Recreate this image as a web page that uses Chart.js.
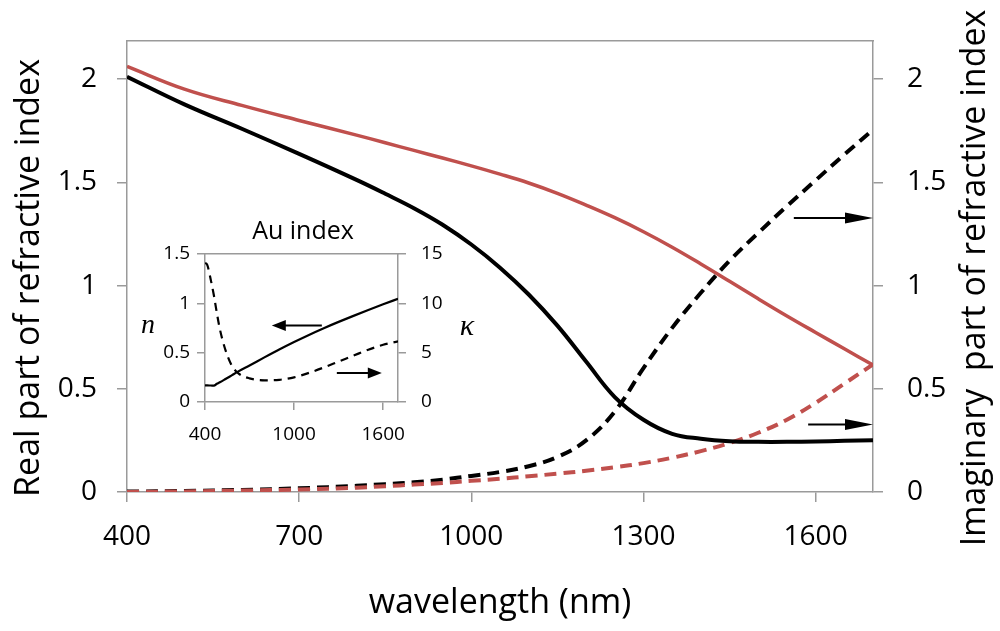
<!DOCTYPE html>
<html>
<head>
<meta charset="utf-8">
<title>Refractive index</title>
<script src="https://cdn.jsdelivr.net/npm/chart.js@4.4.1/dist/chart.umd.min.js"></script>
<style>
  html, body { margin: 0; padding: 0; background: #fff; }
  #wrap { position: relative; width: 1000px; height: 631px; }
  #mainBox { position: absolute; left: 0; top: 0; width: 1000px; height: 631px; }
  #insetBox { position: absolute; left: 130px; top: 200px; width: 360px; height: 260px; }
</style>
</head>
<body>
<div id="wrap">
  <div id="mainBox"><canvas id="mainChart"></canvas></div>
  <div id="insetBox"><canvas id="insetChart"></canvas></div>
</div>
<script>
// main plot data (wavelength in nm)
const wavelength = [400, 500, 600, 700, 800, 850, 900, 950, 1000, 1050, 1100, 1150, 1200, 1250, 1300, 1350, 1400, 1450, 1500, 1550, 1600, 1650, 1700];
const realBlack = [2.012, 1.878, 1.76, 1.638, 1.512, 1.445, 1.375, 1.295, 1.199, 1.087, 0.957, 0.806, 0.632, 0.46, 0.35, 0.282, 0.258, 0.246, 0.243, 0.243, 0.245, 0.248, 0.251];
const realRed   = [2.062, 1.952, 1.873, 1.80, 1.729, 1.692, 1.655, 1.618, 1.58, 1.54, 1.497, 1.447, 1.39, 1.329, 1.261, 1.186, 1.105, 1.021, 0.936, 0.853, 0.773, 0.694, 0.615];
const imagBlack = [0.002, 0.005, 0.01, 0.018, 0.03, 0.038, 0.047, 0.06, 0.078, 0.097, 0.125, 0.17, 0.25, 0.39, 0.60, 0.795, 0.965, 1.12, 1.255, 1.385, 1.51, 1.635, 1.755];
const imagRed   = [0.0, 0.003, 0.007, 0.012, 0.021, 0.028, 0.036, 0.044, 0.054, 0.064, 0.076, 0.089, 0.103, 0.12, 0.14, 0.166, 0.198, 0.237, 0.287, 0.35, 0.432, 0.525, 0.618];

const xTicks = [400, 700, 1000, 1300, 1600];
const yTicks = [0, 0.5, 1, 1.5, 2];

// arrows: [from wavelength, to wavelength, value]
const mainArrows = [[1562, 1700, 1.327], [1587, 1700, 0.327]];

// inset: Au index
const auWavelength = [400, 415, 440, 460, 480, 500, 535, 580, 625, 700, 800, 900, 1000, 1100, 1200, 1300, 1400, 1500, 1600, 1700];
const auN     = [0.169, 0.168, 0.167, 0.166, 0.185, 0.20, 0.23, 0.27, 0.31, 0.37, 0.452, 0.532, 0.608, 0.68, 0.748, 0.812, 0.873, 0.932, 0.99, 1.046];
const auKappa = [14.1, 13.9, 12.3, 10.8, 9.0, 7.4, 5.4, 3.7, 2.9, 2.4, 2.2, 2.25, 2.5, 2.95, 3.5, 4.1, 4.7, 5.3, 5.8, 6.15];

const insetXTicks = [400, 1000, 1600];
const insetNTicks = [0, 0.5, 1, 1.5];
const insetKTicks = [0, 5, 10, 15];
const insetArrows = [[1187, 850, 0.775], [1288, 1591, 0.295]];

const FONT = '"Open Sans", "Liberation Sans", sans-serif';
const AXIS = '#9a9a9a';

function pts(xs, ys) {
  return xs.map((x, i) => ({ x: x, y: ys[i] }));
}

// draws horizontal arrows given in data units
const arrowPlugin = {
  id: 'arrows',
  afterDatasetsDraw(chart, args, opts) {
    const ctx = chart.ctx;
    const xs = chart.scales.x, ys = chart.scales.y;
    opts.list.forEach(a => {
      const x1 = xs.getPixelForValue(a[0]);
      const x2 = xs.getPixelForValue(a[1]);
      const y = ys.getPixelForValue(a[2]);
      const dir = x2 > x1 ? 1 : -1;
      ctx.save();
      ctx.strokeStyle = '#000';
      ctx.fillStyle = '#000';
      ctx.lineWidth = opts.width;
      ctx.beginPath();
      ctx.moveTo(x1, y);
      ctx.lineTo(x2 - dir * opts.head * 0.8, y);
      ctx.stroke();
      ctx.beginPath();
      ctx.moveTo(x2, y);
      ctx.lineTo(x2 - dir * opts.head, y - opts.half);
      ctx.lineTo(x2 - dir * opts.head, y + opts.half);
      ctx.closePath();
      ctx.fill();
      ctx.restore();
    });
  }
};

// free text (axis titles, inset labels)
const textPlugin = {
  id: 'freeText',
  afterDraw(chart, args, opts) {
    const ctx = chart.ctx;
    opts.items.forEach(t => {
      ctx.save();
      ctx.font = t.font;
      ctx.fillStyle = '#000';
      ctx.textAlign = 'center';
      ctx.textBaseline = 'middle';
      ctx.translate(t.x, t.y);
      if (t.rotate) ctx.rotate(t.rotate);
      ctx.fillText(t.text, 0, 0);
      ctx.restore();
    });
  }
};

function fixedTicks(list) {
  return scale => { scale.ticks = list.map(v => ({ value: v })); };
}

function axisGrid(len) {
  return { drawOnChartArea: false, drawTicks: true, tickLength: len, color: AXIS, lineWidth: 1.5 };
}

const mainChart = new Chart(document.getElementById('mainChart'), {
  type: 'line',
  data: {
    datasets: [
      { data: pts(wavelength, realRed), borderColor: '#c0504d', borderWidth: 3.5, yAxisID: 'y' },
      { data: pts(wavelength, realBlack), borderColor: '#000', borderWidth: 4, yAxisID: 'y' },
      { data: pts(wavelength, imagRed), borderColor: '#c0504d', borderWidth: 4, borderDash: [12, 7], yAxisID: 'y2' },
      { data: pts(wavelength, imagBlack), borderColor: '#000', borderWidth: 4, borderDash: [12, 7], yAxisID: 'y2' }
    ]
  },
  options: {
    responsive: true,
    maintainAspectRatio: false,
    animation: false,
    layout: { padding: { top: 11, left: 0, right: 0, bottom: 0 } },
    elements: {
      point: { radius: 0 },
      line: { tension: 0.4, fill: false, borderCapStyle: 'butt' }
    },
    plugins: {
      legend: { display: false },
      tooltip: { enabled: false },
      arrows: { list: mainArrows, width: 2, head: 28, half: 5.5 },
      freeText: {
        items: [
          { text: 'wavelength (nm)', x: 500, y: 603, font: '34px ' + FONT },
          { text: 'Real part of refractive index', x: 29, y: 278, rotate: -Math.PI / 2, font: '34px ' + FONT },
          { text: 'Imaginary  part of refractive index', x: 975, y: 278, rotate: -Math.PI / 2, font: '34px ' + FONT }
        ]
      }
    },
    scales: {
      x: {
        type: 'linear', position: 'bottom', min: 400, max: 1700,
        afterBuildTicks: fixedTicks(xTicks),
        afterFit: s => { s.height = 139; },
        grid: axisGrid(10),
        border: { color: AXIS, width: 1.5 },
        ticks: { color: '#000', font: { family: FONT, size: 28 }, padding: 18, callback: v => String(v), maxRotation: 0 }
      },
      xTop: {
        type: 'linear', position: 'top', min: 400, max: 1700,
        afterFit: s => { s.height = 0; },
        grid: { display: false },
        border: { color: AXIS, width: 1.5 },
        ticks: { display: false }
      },
      y: {
        position: 'left', min: 0, max: 2.186,
        afterBuildTicks: fixedTicks(yTicks),
        afterFit: s => { s.width = 127; },
        grid: axisGrid(10),
        border: { color: AXIS, width: 1.5 },
        ticks: { color: '#000', font: { family: FONT, size: 28 }, padding: 20, callback: v => String(v) }
      },
      y2: {
        position: 'right', min: 0, max: 2.186,
        afterBuildTicks: fixedTicks(yTicks),
        afterFit: s => { s.width = 127; },
        grid: axisGrid(10),
        border: { color: AXIS, width: 1.5 },
        ticks: { color: '#000', font: { family: FONT, size: 28 }, padding: 24, callback: v => String(v) }
      }
    }
  },
  plugins: [arrowPlugin, textPlugin]
});

// inset canvas sits at (130, 200) of the page
const insetChart = new Chart(document.getElementById('insetChart'), {
  type: 'line',
  data: {
    datasets: [
      { data: pts(auWavelength, auN), borderColor: '#000', borderWidth: 2.2, yAxisID: 'y' },
      { data: pts(auWavelength, auKappa), borderColor: '#000', borderWidth: 2.2, borderDash: [8, 6], yAxisID: 'y2' }
    ]
  },
  options: {
    responsive: true,
    maintainAspectRatio: false,
    animation: false,
    layout: { padding: { top: 54, left: 0, right: 0, bottom: 0 } },
    elements: {
      point: { radius: 0 },
      line: { cubicInterpolationMode: 'monotone', fill: false, borderCapStyle: 'butt' }
    },
    plugins: {
      legend: { display: false },
      tooltip: { enabled: false },
      arrows: { list: insetArrows, width: 2, head: 14, half: 5.5 },
      freeText: {
        items: [
          { text: 'Au index', x: 173, y: 32, font: '25px ' + FONT },
          { text: 'n', x: 18, y: 126, font: 'italic 28px "Liberation Serif", serif' },
          { text: '\u03ba', x: 337, y: 127, font: 'italic 30px "Liberation Serif", serif' }
        ]
      }
    },
    scales: {
      x: {
        type: 'linear', position: 'bottom', min: 400, max: 1700,
        afterBuildTicks: fixedTicks(insetXTicks),
        afterFit: s => { s.height = 58; },
        grid: axisGrid(8),
        border: { color: AXIS, width: 1.5 },
        ticks: { color: '#000', font: { family: FONT, size: 19 }, padding: 13, callback: v => String(v), maxRotation: 0 }
      },
      xTop: {
        type: 'linear', position: 'top', min: 400, max: 1700,
        afterFit: s => { s.height = 0; },
        grid: { display: false },
        border: { color: AXIS, width: 1.5 },
        ticks: { display: false }
      },
      y: {
        position: 'left', min: 0, max: 1.5,
        afterBuildTicks: fixedTicks(insetNTicks),
        afterFit: s => { s.width = 75; },
        grid: axisGrid(8),
        border: { color: AXIS, width: 1.5 },
        ticks: { color: '#000', font: { family: FONT, size: 19 }, padding: 7, callback: v => String(v) }
      },
      y2: {
        position: 'right', min: 0, max: 15,
        afterBuildTicks: fixedTicks(insetKTicks),
        afterFit: s => { s.width = 92; },
        grid: axisGrid(8),
        border: { color: AXIS, width: 1.5 },
        ticks: { color: '#000', font: { family: FONT, size: 19 }, padding: 15, callback: v => String(v) }
      }
    }
  },
  plugins: [arrowPlugin, textPlugin]
});
</script>
</body>
</html>
